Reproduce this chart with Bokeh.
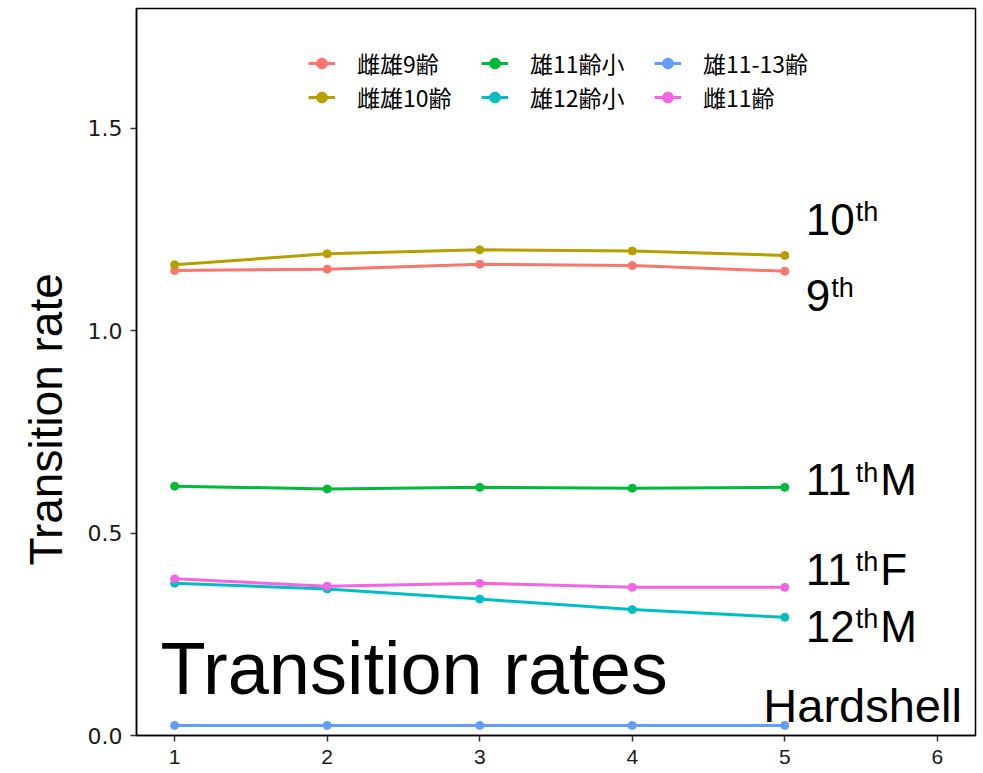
from bokeh.plotting import figure
from bokeh.embed import file_html
from bokeh.resources import INLINE
from bokeh.core.properties import value
from bokeh.models import FixedTicker, Range1d, Legend, PrintfTickFormatter, Title

# ---- data ----
stage = [1, 2, 3, 4, 5]
series_names = ["雌雄9齢", "雌雄10齢", "雄11齢小", "雄12齢小", "雄11-13齢", "雌11齢"]
s_9 = [1.149, 1.152, 1.164, 1.161, 1.147]
s_10 = [1.163, 1.190, 1.200, 1.197, 1.186]
s_11m = [0.616, 0.609, 0.613, 0.611, 0.613]
s_12m = [0.376, 0.362, 0.337, 0.311, 0.292]
s_hard = [0.025, 0.025, 0.025, 0.025, 0.025]
s_11f = [0.387, 0.369, 0.376, 0.366, 0.366]
series_values = [s_9, s_10, s_11m, s_12m, s_hard, s_11f]
colors = ["#F8766D", "#B79F00", "#00BA38", "#00BFC4", "#619CFF", "#F564E3"]

y_ticks = [0.0, 0.5, 1.0, 1.5]
x_ticks = [1, 2, 3, 4, 5, 6]

# stage labels at the right: base, superscript, suffix, baseline y
lab_base = ["10", "9", "11", "11", "12"]
lab_sup = ["th", "th", "th", "th", "th"]
lab_suffix = ["", "", "M", "F", "M"]
lab_y = [1.232, 1.045, 0.589, 0.368, 0.227]
lab_x = 5.138

FONT = "Liberation Sans"
CJK = "Noto Sans CJK JP"
BASE_FIX = 0.39  # alphabetic-baseline correction (em)

p = figure(width=977, height=773, output_backend="svg", toolbar_location=None,
           x_range=Range1d(0.75, 6.25), y_range=Range1d(0.0, 1.796),
           min_border_left=136, min_border_right=2, min_border_top=8, min_border_bottom=38)
p.background_fill_color = "white"
p.border_fill_color = "white"
p.outline_line_color = "black"
p.outline_line_width = 1.5
p.xgrid.visible = False
p.ygrid.visible = False

for ax in (p.xaxis[0], p.yaxis[0]):
    ax.axis_line_color = "black"
    ax.axis_line_width = 1.5
    ax.major_tick_line_color = "#333333"
    ax.major_tick_line_width = 1.5
    ax.major_tick_out = 6
    ax.major_tick_in = 0
    ax.minor_tick_line_color = None
    ax.major_label_text_color = "#1a1a1a"

p.yaxis.major_label_text_font = "DejaVu Sans"
p.yaxis.major_label_text_font_size = "22px"
p.xaxis.major_label_text_font = FONT
p.xaxis.major_label_text_font_size = "21px"
p.yaxis.ticker = FixedTicker(ticks=y_ticks)
p.yaxis.formatter = PrintfTickFormatter(format="%.1f")
p.xaxis.ticker = FixedTicker(ticks=x_ticks)
p.yaxis.major_label_standoff = 8
p.xaxis.major_label_standoff = 8

# y-axis title (sits slightly below the panel centre in the reference)
p.add_layout(Title(text="Transition rate", align="left", offset=170, standoff=26,
                   text_font=FONT, text_font_size="46px", text_font_style="normal",
                   text_color="black"), "left")

legend_items = []
for name, vals, col in zip(series_names, series_values, colors):
    r1 = p.line(stage, vals, line_color=col, line_width=3)
    r2 = p.scatter(stage, vals, fill_color=col, line_color=col, size=8)
    legend_items.append((name, [r1, r2]))

legend = Legend(items=legend_items, location=(172, 621), orientation="vertical", nrows=2,
                border_line_color=None, background_fill_alpha=0,
                label_text_font=CJK, label_text_font_size="23px", label_text_color="black",
                glyph_width=27, glyph_height=32, label_standoff=22, spacing=0,
                margin=0, padding=0, label_height=32, label_width=124)
p.add_layout(legend)

# stage labels with superscripts
base_size = 44
sup_size = 27
adv = {"0": 0.556, "1": 0.556, "2": 0.556, "9": 0.556, "t": 0.278, "h": 0.556}
for b, s, suf, yy in zip(lab_base, lab_sup, lab_suffix, lab_y):
    wb = sum(adv[c] for c in b) * base_size
    ws = sum(adv[c] for c in s) * sup_size
    p.text(x=[lab_x], y=[yy], text=[b], text_font=value(FONT), text_font_size=f"{base_size}px",
           text_baseline="alphabetic", text_align="left", text_color="black",
           y_offset=-BASE_FIX * base_size)
    p.text(x=[lab_x], y=[yy], text=[s], text_font=value(FONT), text_font_size=f"{sup_size}px",
           text_baseline="alphabetic", text_align="left", text_color="black",
           x_offset=wb + 1, y_offset=-14 - BASE_FIX * sup_size)
    if suf:
        p.text(x=[lab_x], y=[yy], text=[suf], text_font=value(FONT), text_font_size=f"{base_size}px",
               text_baseline="alphabetic", text_align="left", text_color="black",
               x_offset=wb + ws + 3, y_offset=-BASE_FIX * base_size)

p.text(x=[5.51], y=[0.029], text=["Hardshell"], text_font=value(FONT), text_font_size="47px",
       text_baseline="alphabetic", text_align="center", text_color="black",
       y_offset=-BASE_FIX * 47)
p.text(x=[0.908], y=[0.094], text=["Transition rates"], text_font=value(FONT), text_font_size="74px",
       text_baseline="alphabetic", text_align="left", text_color="black",
       y_offset=-BASE_FIX * 74)

open("out.html", "w").write(file_html(p, INLINE))
